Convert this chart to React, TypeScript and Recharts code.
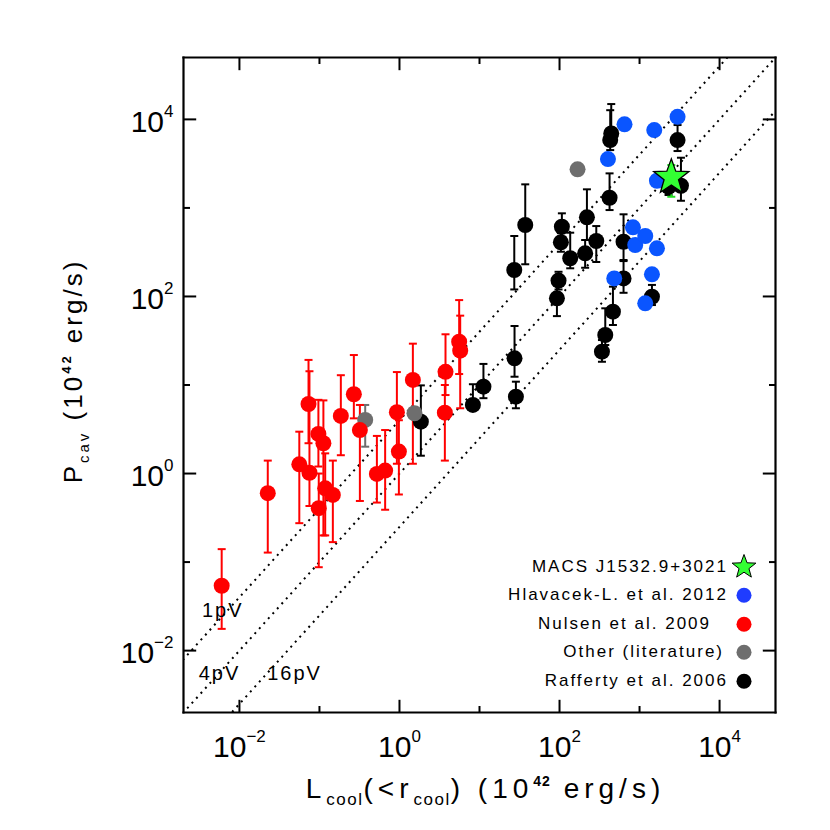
import React from 'react';
import {
  ScatterChart,
  Scatter,
  XAxis,
  YAxis,
  ErrorBar,
  ReferenceLine,
  ReferenceDot,
  Legend,
} from 'recharts';

const FONT = '"Liberation Sans", Arial, Helvetica, sans-serif';

// ─── Axis setup ─────────────────────────

const AXIS_MIN = 0.002;
const AXIS_MAX = 50000;
const decadeTicks = [0.01, 0.1, 1, 10, 100, 1000, 10000];

// plot box in page pixels
const PLOT_LEFT = 183.5;
const PLOT_TOP = 57.5;
const PLOT_W = 592;
const PLOT_H = 655;
const W = 830;
const H = 830;

// ─── Data (units of 10^42 erg/s) ─────────

// Rafferty et al. 2006
const raffertyL = [1.85, 8.27, 11.2, 27.4, 28.5, 27.2, 37.3, 92.8, 97.2, 107, 104, 136, 209, 220, 288, 339, 373, 465, 422, 430, 443, 631, 631, 1429, 2304, 2985, 3292];
const raffertyP = [3.85, 5.95, 9.57, 20.0, 7.38, 199, 641, 95.3, 151, 613, 409, 270, 307, 783, 423, 23.8, 36.7, 67.3, 1303, 5840, 6950, 415, 160, 99.3, 1734, 5840, 1780];
const raffertyLo = [1.59, 5.2, 7.1, 12.4, 5.46, 120, 231, 60, 120, 381, 320, 208, 211, 434, 245, 18.3, 28.3, 47.6, 946, 4500, 5130, 258, 110, 80, 1400, 4390, 1205];
const raffertyHi = [9.9, 10.2, 17.3, 46.4, 10.9, 482, 1846, 135, 190, 869, 520, 525, 434, 1622, 624, 32.2, 73.5, 129, 2456, 12700, 14900, 847, 251, 135, 2350, 8630, 3690];

// Other (literature)
const otherL = [0.373, 1.54, 168];
const otherP = [4.03, 4.8, 2730];
const otherLo = [2.01, null, null];
const otherHi = [5.95, null, null];

// Nulsen et al. 2009
const nulsenL = [0.006, 0.0226, 0.056, 0.073, 0.075, 0.097, 0.112, 0.185, 0.269, 0.32, 0.118, 0.147, 0.098, 0.522, 0.662, 0.928, 0.983, 1.47, 3.76, 3.69, 5.57, 5.74];
const nulsenP = [0.054, 0.6, 1.27, 6.1, 1.02, 2.8, 2.2, 4.47, 7.86, 3.1, 0.68, 0.573, 0.406, 0.99, 1.08, 4.92, 1.77, 11.4, 14.1, 4.87, 30.8, 24.4];
const nulsenLo = [0.0176, 0.128, 0.275, 2.2, 0.43, 1.2, 0.2, 1.61, 4.2, 0.49, 0.2, 0.168, 0.0875, 0.47, 0.39, 1.29, 0.58, 1.29, 7.7, 1.4, 13.3, 5.46];
const nulsenHi = [0.14, 1.4, 2.97, 19.2, 14.3, 6.8, 6.7, 12.9, 21.8, 5.95, 1.69, 1.4, 1.0, 2.66, 3.1, 14.0, 4.0, 29.3, 37.4, 10, 91, 60.7];

// Hlavacek-Larrondo et al. 2012
const hlavacekL = [403, 483, 649, 827, 883, 1178, 1178, 1429, 1527, 1650, 1650, 2985];
const hlavacekP = [3565, 160, 8790, 604, 381, 482, 83.7, 178, 7570, 2028, 350, 10700];

// MACS J1532.9+3021
const macsL = [2494];
const macsP = [2215];
const macsLo = [1337];
const macsHi = [3050];

// enthalpy lines: P_cav = k * L_cool
const pvNames = ['1pV', '4pV', '16pV'];
const pvFactors = [4, 1, 0.25];
const pvLabelL = [0.0034, 0.0031, 0.0222];
const pvLabelP = [0.024, 0.0047, 0.0047];

const legendNames = ['MACS J1532.9+3021', 'Hlavacek-L. et al. 2012', 'Nulsen et al. 2009', 'Other (literature)', 'Rafferty et al. 2006'];
const legendColors = ['#33ff33', '#1f3cff', '#ff0000', '#6e6e6e', '#000000'];
const legendPad = [0, 0, 17, 4, 0];

// ─── Helpers ─────────────────────────────

type Pt = { x: number; y: number; err?: [number, number] };

function buildPoints(L: number[], P: number[], lo?: (number | null)[], hi?: (number | null)[]): Pt[] {
  return L.map((x, i) => {
    const y = P[i];
    const l = lo ? lo[i] : null;
    const h = hi ? hi[i] : null;
    return { x, y, err: l != null && h != null ? [y - l, h - y] : undefined };
  });
}

function starPath(cx: number, cy: number, R: number, r: number) {
  let d = '';
  for (let i = 0; i < 10; i++) {
    const rad = i % 2 === 0 ? R : r;
    const a = -Math.PI / 2 + (i * Math.PI) / 5;
    d += (i ? 'L' : 'M') + (cx + rad * Math.cos(a)).toFixed(2) + ',' + (cy + rad * Math.sin(a)).toFixed(2);
  }
  return d + 'Z';
}

const dot = (color: string) => (p: any) => <circle cx={p.cx} cy={p.cy} r={8} fill={color} />;
const star = (p: any) => (
  <path d={starPath(p.cx, p.cy, 18.5, 7.6)} fill="#33ff33" stroke="#000" strokeWidth={1.3} />
);

function expLabel(v: number) {
  const e = Math.round(Math.log10(v));
  return e < 0 ? '\u2212' + Math.abs(e) : String(e);
}

const isMajor = (v: number) => Math.round(Math.log10(v)) % 2 === 0;

// ─── Ticks (inward, on all four sides) ────

function BottomTick({ x, y, payload }: any) {
  const major = isMajor(payload.value);
  return (
    <g>
      <line x1={x} x2={x} y1={y} y2={y - (major ? 12.7 : 6.5)} stroke="#000" strokeWidth={2} />
      {major && (
        <text x={x} y={y + 44.5} textAnchor="middle" fontFamily={FONT} fontSize={30} fill="#000">
          10<tspan fontSize={17} dy={-15}>{expLabel(payload.value)}</tspan>
        </text>
      )}
    </g>
  );
}

function TopTick({ x, y, payload }: any) {
  const major = isMajor(payload.value);
  return <line x1={x} x2={x} y1={y} y2={y + (major ? 12.7 : 6.5)} stroke="#000" strokeWidth={2} />;
}

function LeftTick({ x, y, payload }: any) {
  const major = isMajor(payload.value);
  return (
    <g>
      <line x1={x} x2={x + (major ? 12.7 : 6.5)} y1={y} y2={y} stroke="#000" strokeWidth={2} />
      {major && (
        <text x={x - 10} y={y + 12.7} textAnchor="end" fontFamily={FONT} fontSize={30} fill="#000">
          10<tspan fontSize={17} dy={-15}>{expLabel(payload.value)}</tspan>
        </text>
      )}
    </g>
  );
}

function RightTick({ x, y, payload }: any) {
  const major = isMajor(payload.value);
  return <line x1={x} x2={x - (major ? 12.7 : 6.5)} y1={y} y2={y} stroke="#000" strokeWidth={2} />;
}

// ─── Titles & legend ─────────────────────

const XTitle = () => (
  <text
    x={PLOT_LEFT + PLOT_W / 2 + 6}
    y={PLOT_TOP + PLOT_H + 85}
    textAnchor="middle"
    fontFamily={FONT}
    fontSize={28}
    letterSpacing={5}
    fill="#000"
  >
    L<tspan fontSize={17} letterSpacing={1.5} dy={7}>cool</tspan>
    <tspan dy={-7}>(&lt;r</tspan>
    <tspan fontSize={17} letterSpacing={1.5} dy={7}>cool</tspan>
    <tspan dy={-7}>)  (10</tspan>
    <tspan fontSize={14} letterSpacing={1} fontWeight="bold" dy={-12}>42</tspan>
    <tspan dy={12}> erg/s)</tspan>
  </text>
);

const YTitle = () => {
  const cx = 82;
  const cy = PLOT_TOP + PLOT_H / 2 - 14;
  return (
    <text
      x={cx}
      y={cy}
      transform={`rotate(-90, ${cx}, ${cy})`}
      textAnchor="middle"
      fontFamily={FONT}
      fontSize={26}
      letterSpacing={3}
      fill="#000"
    >
      P<tspan fontSize={15} dy={7}>cav</tspan>
      <tspan dy={-7}>  (10</tspan>
      <tspan fontSize={13} fontWeight="bold" dy={-11}>42</tspan>
      <tspan dy={11}> erg/s)</tspan>
    </text>
  );
};

function LegendBox() {
  return (
    <div style={{ fontFamily: FONT, fontSize: 17, letterSpacing: 2, color: '#000' }}>
      {legendNames.map((name, i) => (
        <div
          key={name}
          style={{ display: 'flex', justifyContent: 'flex-end', alignItems: 'center', height: 28.6 }}
        >
          <span style={{ whiteSpace: 'nowrap', paddingRight: legendPad[i] }}>{name}</span>
          <svg width={32} height={28.6} style={{ display: 'block' }}>
            {i === 0 ? (
              <path d={starPath(16, 15, 12.5, 5.2)} fill={legendColors[0]} stroke="#000" strokeWidth={1} />
            ) : (
              <circle cx={16} cy={14.3} r={7.5} fill={legendColors[i]} />
            )}
          </svg>
        </div>
      ))}
    </div>
  );
}

// ─── Component ───────────────────────────

export default function App() {
  const rafferty = buildPoints(raffertyL, raffertyP, raffertyLo, raffertyHi);
  const other = buildPoints(otherL, otherP, otherLo, otherHi);
  const nulsen = buildPoints(nulsenL, nulsenP, nulsenLo, nulsenHi);
  const hlavacek = buildPoints(hlavacekL, hlavacekP);
  const macs = buildPoints(macsL, macsP, macsLo, macsHi);

  const axisLine = { stroke: '#000', strokeWidth: 2.2, strokeLinecap: 'square' as const };
  const common = {
    type: 'number' as const,
    scale: 'log' as const,
    domain: [AXIS_MIN, AXIS_MAX],
    allowDataOverflow: true,
    ticks: decadeTicks,
    interval: 0,
    tickSize: 0,
    tickMargin: 0,
    tickLine: false,
    axisLine,
  };

  return (
    <div style={{ position: 'absolute', left: 0, top: 0, width: W, height: H, background: '#fff' }}>
      <ScatterChart
        width={W}
        height={H}
        margin={{
          top: PLOT_TOP - 10,
          left: PLOT_LEFT - 40,
          right: W - (PLOT_LEFT + PLOT_W) - 10,
          bottom: H - (PLOT_TOP + PLOT_H) - 40,
        }}
      >
        <XAxis xAxisId="b" dataKey="x" orientation="bottom" height={40} {...common} tick={<BottomTick />} label={{ content: XTitle }} />
        <XAxis xAxisId="t" dataKey="x" orientation="top" height={10} {...common} tick={<TopTick />} />
        <YAxis yAxisId="l" dataKey="y" orientation="left" width={40} {...common} tick={<LeftTick />} label={{ content: YTitle }} />
        <YAxis yAxisId="r" dataKey="y" orientation="right" width={10} {...common} tick={<RightTick />} />

        {pvFactors.map((k, i) => (
          <ReferenceLine
            key={pvNames[i]}
            xAxisId="b"
            yAxisId="l"
            segment={[{ x: 1e-4, y: k * 1e-4 }, { x: 1e6, y: k * 1e6 }]}
            stroke="#000"
            strokeWidth={2}
            strokeDasharray="2 4.7"
            ifOverflow="hidden"
          />
        ))}
        {pvNames.map((name, i) => (
          <ReferenceDot
            key={name}
            xAxisId="b"
            yAxisId="l"
            x={pvLabelL[i]}
            y={pvLabelP[i]}
            r={0}
            shape={(p: any) => (
              <text x={p.cx} y={p.cy} fontFamily={FONT} fontSize={20} letterSpacing={2} fill="#000">
                {name}
              </text>
            )}
          />
        ))}

        <Scatter name={legendNames[4]} xAxisId="b" yAxisId="l" data={rafferty} shape={dot('#000')} isAnimationActive={false}>
          <ErrorBar dataKey="err" direction="y" width={4} stroke="#000" strokeWidth={2} />
        </Scatter>
        <Scatter name={legendNames[3]} xAxisId="b" yAxisId="l" data={other} shape={dot('#6e6e6e')} isAnimationActive={false}>
          <ErrorBar dataKey="err" direction="y" width={4} stroke="#6e6e6e" strokeWidth={2} />
        </Scatter>
        <Scatter name={legendNames[2]} xAxisId="b" yAxisId="l" data={nulsen} shape={dot('#ff0000')} isAnimationActive={false}>
          <ErrorBar dataKey="err" direction="y" width={4} stroke="#ff0000" strokeWidth={2} />
        </Scatter>
        <Scatter name={legendNames[1]} xAxisId="b" yAxisId="l" data={hlavacek} shape={dot('#0a55ff')} isAnimationActive={false} />
        <Scatter name={legendNames[0]} xAxisId="b" yAxisId="l" data={macs} shape={star} isAnimationActive={false}>
          <ErrorBar dataKey="err" direction="y" width={4} stroke="#22dd22" strokeWidth={2} />
        </Scatter>

        <Legend
          layout="vertical"
          align="center"
          verticalAlign="middle"
          wrapperStyle={{ position: 'absolute', left: 430, top: 552.4, width: 330 }}
          content={() => <LegendBox />}
        />
      </ScatterChart>
    </div>
  );
}
